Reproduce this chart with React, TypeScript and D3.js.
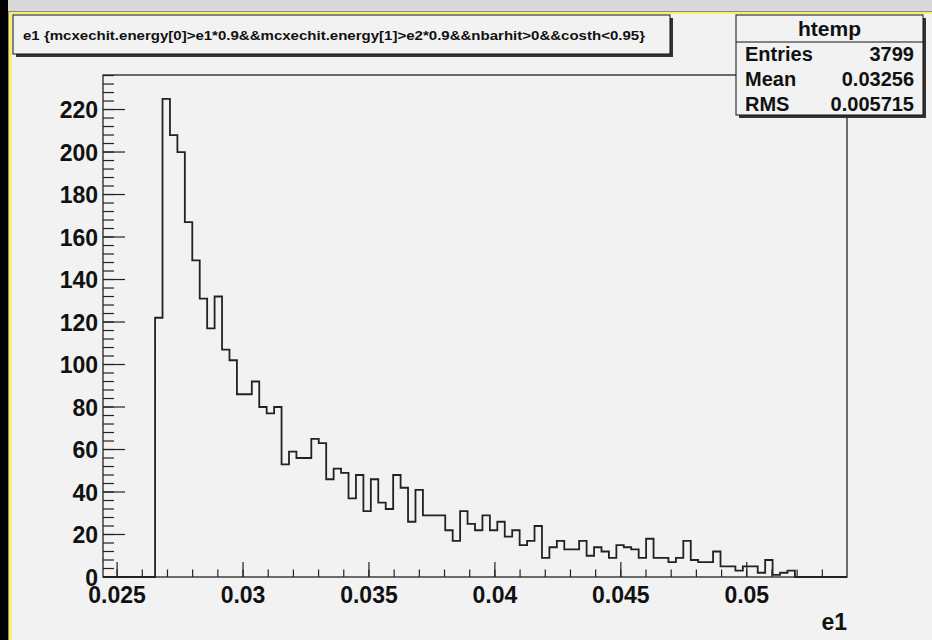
import * as d3 from 'd3';
import React from 'react';

// histogram "htemp": 100 bins between xMin and xMax (ROOT default binning)
const nBins = 100;
const xMin = 0.02444;
const xMax = 0.05398;
// counts for bins 7..92, everything else is empty
const firstBin = 7;
const counts = [
  122, 225, 208, 200, 167, 149, 131, 117, 132, 107,
  102, 86, 86, 92, 80, 77, 80, 53, 59, 56,
  56, 65, 63, 46, 51, 49, 37, 48, 31, 46,
  35, 32, 48, 42, 26, 41, 29, 29, 29, 22,
  17, 31, 25, 22, 29, 22, 26, 19, 22, 15,
  17, 24, 9, 14, 17, 13, 13, 17, 10, 14,
  12, 9, 15, 14, 13, 9, 18, 9, 9, 7,
  9, 17, 8, 7, 7, 12, 5, 5, 3, 5,
  5, 2, 8, 1, 2, 3,
];
const xTicks = [0.025, 0.03, 0.035, 0.04, 0.045, 0.05];
const xTickLabels = ['0.025', '0.03', '0.035', '0.04', '0.045', '0.05'];
const yTicks = [0, 20, 40, 60, 80, 100, 120, 140, 160, 180, 200, 220];

const title = 'e1 {mcxechit.energy[0]>e1*0.9&&mcxechit.energy[1]>e2*0.9&&nbarhit>0&&costh<0.95}';
const statsName = 'htemp';
const statsLabels = ['Entries', 'Mean', 'RMS'];
const statsValues = ['3799', '0.03256', '0.005715'];
const xTitle = 'e1';

const W = 932;
const H = 640;
const frame = { left: 103, right: 847, top: 75, bottom: 577 };
const font = '"Liberation Sans", Arial, Helvetica, sans-serif';

export default function App() {
  const yMax = 1.05 * d3.max(counts)!;
  const x = d3.scaleLinear().domain([xMin, xMax]).range([frame.left, frame.right]);
  const y = d3.scaleLinear().domain([0, yMax]).range([frame.bottom, frame.top]);
  const binW = (xMax - xMin) / nBins;

  // full bin contents, including empty bins
  const contents = d3.range(nBins).map(i =>
    i >= firstBin && i < firstBin + counts.length ? counts[i - firstBin] : 0);

  // step outline
  const pts: [number, number][] = [[x(xMin), y(0)]];
  contents.forEach((c, i) => {
    pts.push([x(xMin + i * binW), y(c)]);
    pts.push([x(xMin + (i + 1) * binW), y(c)]);
  });
  pts.push([x(xMax), y(0)]);
  const line = d3.line()(pts) ?? '';

  // minor ticks
  const xMinor = d3.range(25, 54).map(v => v / 1000).filter(v => v >= xMin && v <= xMax);
  const yMinor = d3.range(0, Math.floor(yMax) + 1, 4);

  return (
    <div style={{ position: 'absolute', left: 0, top: 0 }}>
      <svg width={W} height={H} style={{ display: 'block' }} fontFamily={font}>
        <rect x={0} y={0} width={W} height={H} fill="#f2f2f2" />
        {/* window chrome */}
        <rect x={0} y={0} width={W} height={12} fill="#d9d9d9" />
        <rect x={0} y={11} width={W} height={1} fill="#8a8a8a" />
        <rect x={0} y={12} width={W} height={2} fill="#f5f06a" />
        <rect x={0} y={0} width={8} height={H} fill="#000" />
        <rect x={8} y={12} width={1} height={H} fill="#8a8a8a" />
        <rect x={9} y={12} width={3} height={H} fill="#f5f06a" />

        {/* frame */}
        <rect x={frame.left} y={frame.top} width={frame.right - frame.left}
          height={frame.bottom - frame.top} fill="#f2f2f2" stroke="#111" strokeWidth={1.2} />

        {/* histogram */}
        <path d={line} fill="none" stroke="#222" strokeWidth={1.8} />

        {/* x axis ticks */}
        {xMinor.map((v, i) => (
          <line key={'xm' + i} x1={x(v)} x2={x(v)} y1={frame.bottom} y2={frame.bottom - 7.5}
            stroke="#222" strokeWidth={1.2} />
        ))}
        {xTicks.map((v, i) => (
          <g key={'x' + i}>
            <line x1={x(v)} x2={x(v)} y1={frame.bottom} y2={frame.bottom - 15} stroke="#222" strokeWidth={1.2} />
            <text x={x(v)} y={603} textAnchor="middle" fontSize={23} fontWeight="bold" fill="#111">
              {xTickLabels[i]}
            </text>
          </g>
        ))}

        {/* y axis ticks */}
        {yMinor.map((v, i) => (
          <line key={'ym' + i} x1={frame.left} x2={frame.left + 11} y1={y(v)} y2={y(v)}
            stroke="#222" strokeWidth={1.2} />
        ))}
        {yTicks.map((v, i) => (
          <g key={'y' + i}>
            <line x1={frame.left} x2={frame.left + 22} y1={y(v)} y2={y(v)} stroke="#222" strokeWidth={1.2} />
            <text x={98} y={y(v) + 8.5} textAnchor="end" fontSize={23} fontWeight="bold" fill="#111">
              {v}
            </text>
          </g>
        ))}

        <text x={frame.right} y={630} textAnchor="end" fontSize={23} fontWeight="bold" fill="#111">
          {xTitle}
        </text>

        {/* title box */}
        <rect x={16} y={18} width={657} height={39} fill="#333" />
        <rect x={13} y={15} width={657} height={39} fill="#f2f2f2" stroke="#111" strokeWidth={1} />
        <text x={23} y={40} fontSize={13.5} fontWeight="bold" fill="#111"
          textLength={622} lengthAdjust="spacingAndGlyphs">
          {title}
        </text>

        {/* stats box */}
        <rect x={739} y={18} width={187} height={100} fill="#333" />
        <rect x={736} y={15} width={187} height={100} fill="#f2f2f2" stroke="#111" strokeWidth={1} />
        <line x1={736} x2={923} y1={42} y2={42} stroke="#111" strokeWidth={1} />
        <text x={829.5} y={36} textAnchor="middle" fontSize={21} fontWeight="bold" fill="#111">
          {statsName}
        </text>
        {statsLabels.map((s, i) => (
          <g key={'s' + i}>
            <text x={745} y={61 + i * 25} fontSize={20} fontWeight="bold" fill="#111">{s}</text>
            <text x={914} y={61 + i * 25} textAnchor="end" fontSize={20} fontWeight="bold" fill="#111">
              {statsValues[i]}
            </text>
          </g>
        ))}
      </svg>
    </div>
  );
}
